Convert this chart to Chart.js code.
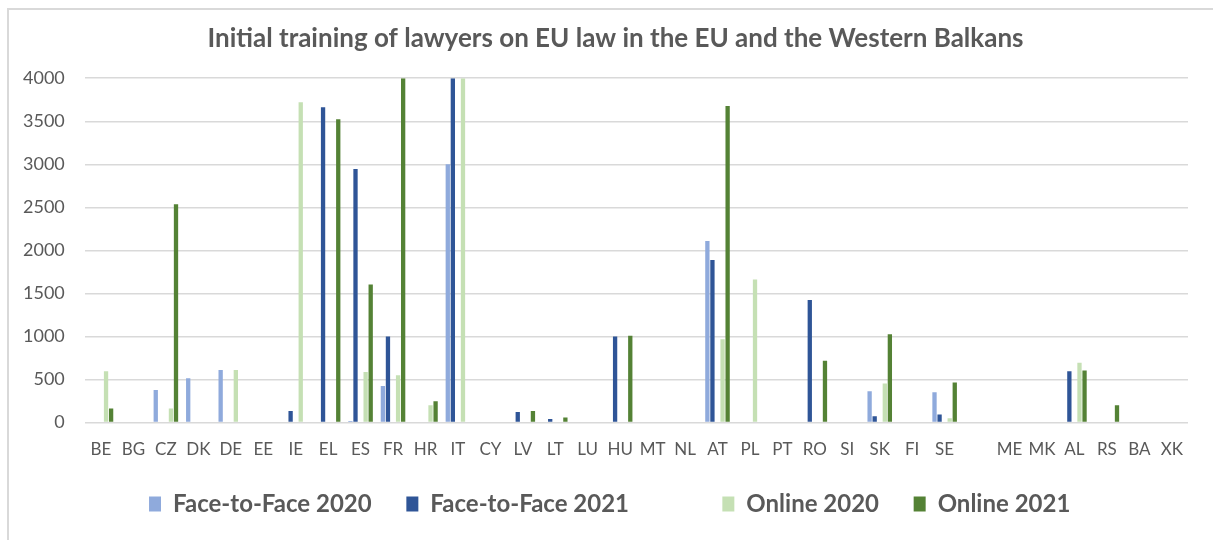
<!DOCTYPE html>
<html>
<head>
<meta charset="utf-8">
<script src="https://cdn.jsdelivr.net/npm/chart.js@4"></script>
<style>
  body { margin: 0; background: #fff; }
  #wrap { width: 1213px; height: 540px; }
</style>
</head>
<body>
<div id="wrap"><canvas id="mycanvas" width="1213" height="540"></canvas></div>
<script>
var countries = ['BE','BG','CZ','DK','DE','EE','IE','EL','ES','FR','HR','IT','CY','LV','LT','LU','HU','MT','NL','AT','PL','PT','RO','SI','SK','FI','SE','','ME','MK','AL','RS','BA','XK'];

var f2f2020 = [null,null,380,515,612,null,null,null,20,426,null,3000,null,null,null,null,null,null,null,2109,null,null,null,null,364,null,353,null,null,null,null,null,null,null];
var f2f2021 = [null,null,null,null,null,null,136,3663,2946,1000,null,4000,null,124,43,null,1000,null,null,1888,null,null,1423,null,74,null,93,null,null,null,597,null,null,null];
var online2020 = [597,null,163,null,612,null,3721,null,589,550,202,4000,null,null,null,null,null,null,null,969,1663,null,null,null,453,null,50,null,null,null,694,null,null,null];
var online2021 = [165,null,2535,null,10,null,null,3523,1605,4000,248,null,null,136,58,null,1008,null,null,3678,null,null,717,null,1027,null,465,null,null,null,605,202,null,null];
var blank = countries.map(function(){ return null; });

var yTicks = [0,500,1000,1500,2000,2500,3000,3500,4000];

var txt = '#595959';

// light frame round the chart like the office export
var framePlugin = {
	id: 'frame',
	beforeDraw: function(chart) {
		var c = chart.ctx;
		c.save();
		c.strokeStyle = '#d9d9d9';
		c.lineWidth = 2;
		c.beginPath();
		c.moveTo(8, 540);
		c.lineTo(8, 9);
		c.lineTo(1213, 9);
		c.stroke();
		c.restore();
	}
};

// the original frame is wider than the crop, so title and legend sit a bit right of centre
var nudgePlugin = {
	id: 'nudge',
	afterLayout: function(chart) {
		[chart.titleBlock, chart.legend].forEach(function(b){
			if (b) { b.left += 20; b.right += 20; }
		});
	}
};

var chartdata = {
	labels: countries,
	datasets: [
		{ label: 'Face-to-Face 2020', backgroundColor: '#8faadc', data: f2f2020 },
		{ label: 'Face-to-Face 2021', backgroundColor: '#2f5597', data: f2f2021 },
		{ label: '', backgroundColor: 'rgba(0,0,0,0)', data: blank },
		{ label: 'Online 2020', backgroundColor: '#c5e0b4', data: online2020 },
		{ label: 'Online 2021', backgroundColor: '#548235', data: online2021 }
	]
};

var ctx = document.getElementById('mycanvas');

var barGraph = new Chart(ctx, {
	type: 'bar',
	data: chartdata,
	plugins: [framePlugin, nudgePlugin],
	options: {
		responsive: false,
		animation: false,
		layout: { padding: { left: 3, right: 25, top: 20, bottom: 14 } },
		datasets: { bar: { categoryPercentage: 0.78, barPercentage: 0.85 } },
		plugins: {
			title: {
				display: true,
				text: 'Initial training of lawyers on EU law in the EU and the Western Balkans',
				color: txt,
				font: { family: 'Lato', size: 26, weight: 'bold' },
				padding: { top: 3, bottom: 24 }
			},
			legend: {
				position: 'bottom',
				labels: {
					color: txt,
					font: { family: 'Lato', size: 24, weight: 'bold' },
					boxWidth: 12,
					boxHeight: 15,
					padding: 23,
					// trailing spaces give the wide gaps between items
					generateLabels: function(chart) {
						var items = Chart.defaults.plugins.legend.labels.generateLabels(chart);
						items.forEach(function(it){ it.text = it.text + '  '; });
						return items;
					}
				}
			},
			tooltip: { enabled: false }
		},
		scales: {
			x: {
				grid: { display: false },
				border: { display: false },
				ticks: {
					color: txt,
					font: { family: 'Lato', size: 17 },
					autoSkip: false,
					maxRotation: 0,
					padding: 9
				}
			},
			y: {
				min: 0,
				max: 4000,
				afterBuildTicks: function(axis) {
					axis.ticks = yTicks.map(function(v){ return { value: v }; });
				},
				grid: { color: '#d9d9d9', lineWidth: 1.5, drawTicks: false },
				border: { display: false },
				ticks: {
					color: txt,
					font: { family: 'Lato', size: 18 },
					padding: 20,
					callback: function(v){ return String(v); }
				}
			}
		}
	}
});
</script>
</body>
</html>
